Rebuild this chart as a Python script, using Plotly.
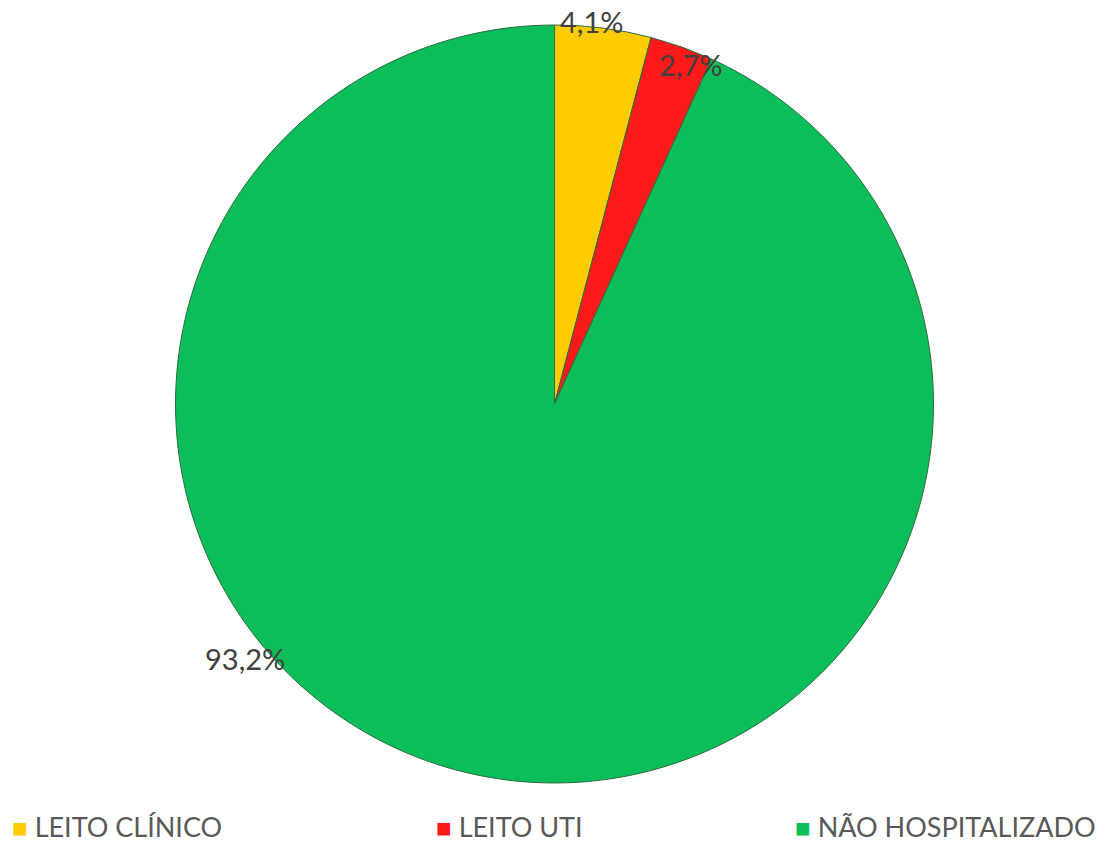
import plotly.graph_objects as go

categories = ["LEITO CLÍNICO", "LEITO UTI", "NÃO HOSPITALIZADO"]
values = [4.1, 2.7, 93.2]
colors = ["#FFCC00", "#FF1A1A", "#0CBE5A"]

W, H = 1100, 844
cx, cy, R = 554.5, 404, 379

fig = go.Figure(go.Pie(
    labels=categories,
    values=values,
    sort=False,
    direction="clockwise",
    rotation=0,
    marker=dict(colors=colors, line=dict(color="#2E6B3F", width=1)),
    textinfo="none",
    hoverinfo="label+percent",
    showlegend=False,
    domain=dict(x=[(cx - R) / W, (cx + R) / W], y=[1 - (cy + R) / H, 1 - (cy - R) / H]),
))

# data label layout spots (pixels)
label_pos = [(591, 22), (690, 64), (245, 658)]
for v, (px, py) in zip(values, label_pos):
    fig.add_annotation(
        x=px / W, y=1 - py / H, xref="paper", yref="paper",
        text=f"{v:.1f}%".replace(".", ","), showarrow=False,
        font=dict(family="Lato", size=29, color="#404040"),
        xanchor="center", yanchor="middle",
    )

# legend entries (layout spots in pixels)
legend_x = [11, 435, 794]
for name, col, lx in zip(categories, colors, legend_x):
    fig.add_annotation(
        x=lx / W, y=0, xref="paper", yref="paper",
        text=f"<span style='color:{col};font-size:26px'>■</span> {name}",
        showarrow=False, xanchor="left", yanchor="bottom",
        font=dict(family="Lato", size=27, color="#595959"),
        borderpad=0,
    )

fig.update_layout(
    width=W, height=H,
    margin=dict(l=0, r=0, t=0, b=0, autoexpand=False),
    paper_bgcolor="white",
    plot_bgcolor="white",
    showlegend=False,
)

fig.write_html("out.html", config={"displayModeBar": False},
               post_script="document.body.style.margin='0';document.body.style.overflow='hidden';")
